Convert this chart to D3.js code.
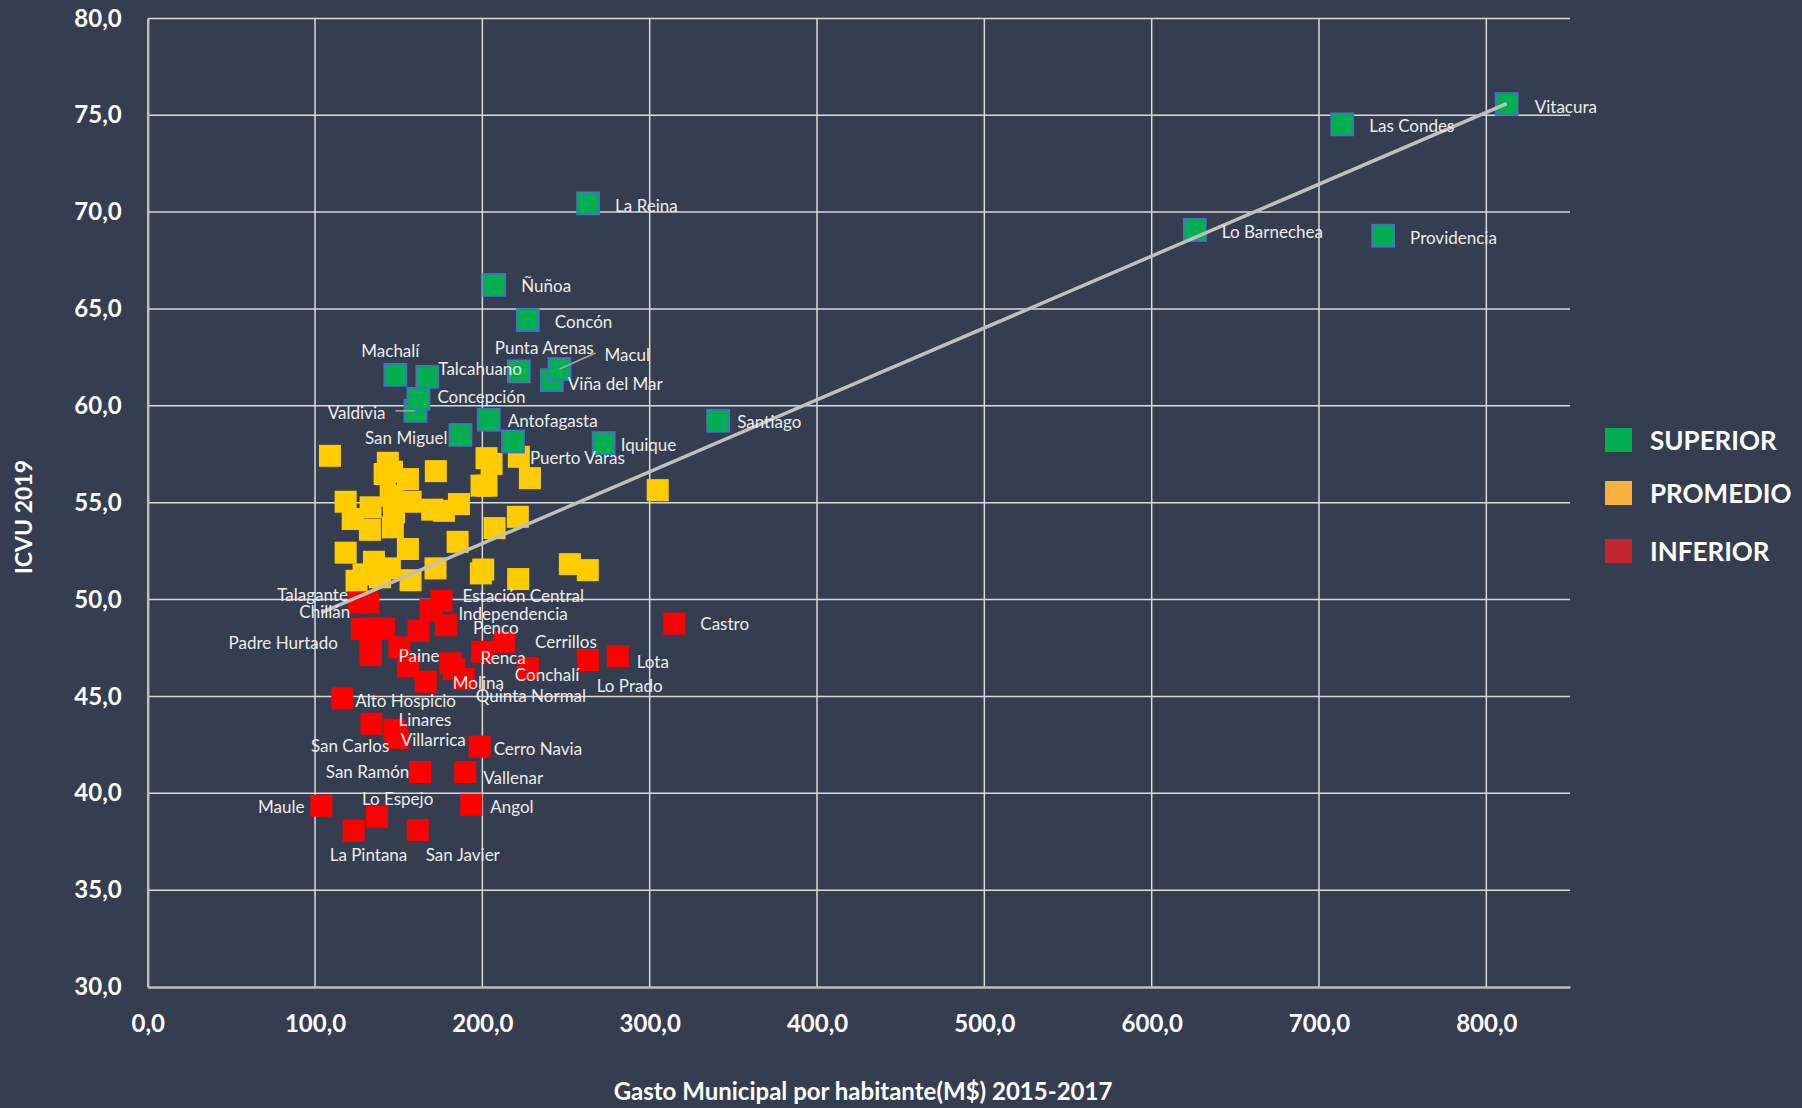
<!DOCTYPE html>
<html>
<head>
<meta charset="utf-8">
<script src="https://cdn.jsdelivr.net/npm/d3@7"></script>
<style>
  body { margin: 0; background: #343e50; }
  svg { display: block; font-family: Lato, "Open Sans", sans-serif; }
</style>
</head>
<body>
<div class="drawing"></div>
<script>
// Comunas del grupo SUPERIOR: [nombre, gasto, icvu]
var superior = [
  ["Vitacura", 812.2, 75.58], ["Las Condes", 713.9, 74.53], ["Lo Barnechea", 625.8, 69.08],
  ["Providencia", 738.3, 68.78], ["La Reina", 263.2, 70.45], ["Ñuñoa", 207.1, 66.24],
  ["Concón", 227.2, 64.43], ["Machalí", 148.0, 61.6], ["Talcahuano", 167.1, 61.5],
  ["Valdivia", 160.0, 59.74], ["Concepción", 161.8, 60.36], ["Punta Arenas", 221.8, 61.78],
  ["Viña del Mar", 241.5, 61.33], ["Macul", 246.1, 61.9], ["Antofagasta", 203.8, 59.28],
  ["San Miguel", 186.9, 58.5], ["Puerto Varas", 218.3, 58.16], ["Iquique", 272.5, 58.08],
  ["Santiago", 340.9, 59.23]
];

// Comunas del grupo PROMEDIO (sin etiqueta)
var promedio = [
  [108.9, 57.42], [143.5, 57.06], [141.6, 56.48], [146.0, 56.6], [155.5, 56.22], [172.2, 56.63],
  [118.3, 55.05], [133.2, 54.76], [145.2, 55.36], [147.0, 55.07], [157.1, 55.05], [147.2, 54.5],
  [170.0, 54.64], [177.0, 54.58], [186.0, 54.93], [122.5, 54.16], [132.8, 53.6], [146.5, 53.73],
  [185.2, 52.98], [118.3, 52.42], [155.5, 52.61], [135.2, 51.95], [129.0, 51.3], [144.7, 51.61],
  [172.0, 51.61], [124.8, 50.97], [138.8, 51.15], [157.1, 51.0], [202.5, 57.3], [205.5, 57.0],
  [221.8, 57.37], [228.4, 56.27], [199.5, 55.88], [202.5, 55.88], [304.8, 55.65], [221.2, 54.27],
  [207.3, 53.69], [199.1, 51.35], [200.5, 51.55], [221.4, 51.06], [252.3, 51.83], [263.0, 51.52]
];

// Comunas del grupo INFERIOR: [nombre, gasto, icvu]
var inferior = [
  ["", 134.8, 48.5], ["", 141.2, 48.5], ["", 150.5, 47.53], ["", 155.5, 46.55],
  ["", 161.9, 48.39], ["", 183.0, 46.41], ["", 199.9, 47.31], ["", 133.2, 47.4],
  ["Talagante", 126.2, 49.85], ["Chillán", 131.8, 49.85], ["Padre Hurtado", 128.0, 48.48],
  ["Estación Central", 175.6, 49.94], ["Independencia", 169.0, 49.46], ["Penco", 178.2, 48.67],
  ["Cerrillos", 213.0, 47.82], ["Renca", 181.0, 46.71], ["Paine", 133.2, 47.13],
  ["Molina", 166.2, 45.76], ["Conchalí", 227.2, 46.46], ["Quinta Normal", 188.9, 45.9],
  ["Lota", 280.9, 47.08], ["Lo Prado", 263.0, 46.88], ["Castro", 314.7, 48.76],
  ["Alto Hospicio", 116.3, 44.9], ["Linares", 133.7, 43.59], ["San Carlos", 147.4, 43.28],
  ["Villarrica", 149.4, 42.86], ["Cerro Navia", 198.4, 42.41], ["San Ramón", 162.9, 41.1],
  ["Vallenar", 189.8, 41.09], ["Maule", 103.8, 39.36], ["Angol", 193.4, 39.41],
  ["Lo Espejo", 137.0, 38.79], ["La Pintana", 123.1, 38.07], ["San Javier", 161.4, 38.1]
];

// Linea de tendencia
var trendSlope = 0.0371, trendIntercept = 45.47;

var xTicks = [0, 100, 200, 300, 400, 500, 600, 700, 800];
var yTicks = [30, 35, 40, 45, 50, 55, 60, 65, 70, 75, 80];
var legendLabels = ["SUPERIOR", "PROMEDIO", "INFERIOR"];
var legendColors = ["#00b050", "#fbb03b", "#c1272d"];

var xTitle = "Gasto Municipal por habitante(M$) 2015-2017";
var yTitle = "ICVU 2019";

// Posicion de las etiquetas respecto al punto: [dx, dy, anchor]
var labelPos = {
  "Vitacura": [28, 2, "start"], "Las Condes": [27, 1, "start"], "Lo Barnechea": [27, 2, "start"],
  "Providencia": [27, 2, "start"], "La Reina": [27, 2, "start"], "Ñuñoa": [27, 1, "start"],
  "Concón": [27, 1, "start"], "Machalí": [-5, -24, "middle"], "Talcahuano": [11, -8, "start"],
  "Concepción": [19, -2, "start"], "Valdivia": [-30, 2, "end"], "Punta Arenas": [-24, -24, "start"],
  "Macul": [45, -15, "start"], "Viña del Mar": [16, 3, "start"], "Antofagasta": [19, 1, "start"],
  "San Miguel": [-13, 3, "end"], "Puerto Varas": [17, 16, "start"], "Iquique": [17, 1, "start"],
  "Santiago": [19, 1, "start"],
  "Talagante": [-11, -8, "end"], "Chillán": [-18, 9, "end"], "Padre Hurtado": [-24, 13, "end"],
  "Estación Central": [21, -5, "start"], "Independencia": [28, 3, "start"], "Penco": [27, 2, "start"],
  "Cerrillos": [31, 0, "start"], "Renca": [30, -6, "start"], "Paine": [28, 0, "start"],
  "Molina": [27, 1, "start"], "Conchalí": [-13, 6, "start"], "Quinta Normal": [12, 17, "start"],
  "Lota": [19, 5, "start"], "Lo Prado": [9, 25, "start"], "Castro": [26, 0, "start"],
  "Alto Hospicio": [13, 2, "start"], "Linares": [27, -4, "start"], "San Carlos": [-5, 16, "end"],
  "Villarrica": [3, 2, "start"], "Cerro Navia": [14, 2, "start"], "San Ramón": [-11, 0, "end"],
  "Vallenar": [18, 5, "start"], "Maule": [-17, 1, "end"], "Angol": [19, 2, "start"],
  "Lo Espejo": [-15, -18, "start"], "La Pintana": [-24, 24, "start"], "San Javier": [8, 24, "start"]
};
// Lineas guia de etiquetas: [x1, y1] relativo al punto
var leaders = { "Valdivia": [-20, 0], "Macul": [36, -16] };

var width = 1802, height = 1108;
var mLeft = 147.7, mRight = 1570, mTop = 18.4, mBottom = 987;
var size = 22;

var svg = d3.select(".drawing").append("svg")
    .attr("width", width)
    .attr("height", height);

svg.append("rect").attr("width", width).attr("height", height).attr("fill", "#343e50");

var x = d3.scaleLinear().domain([0, 850]).range([mLeft, mRight]);
var y = d3.scaleLinear().domain([30, 80]).range([mBottom, mTop]);

var fmt = d3.formatLocale({ decimal: ",", thousands: ".", grouping: [3], currency: ["$", ""] }).format(".1f");

// Grid
svg.append("g").selectAll("line").data(yTicks.slice(1)).join("line")
    .attr("x1", x(0)).attr("x2", x(850))
    .attr("y1", d => y(d)).attr("y2", d => y(d))
    .attr("stroke", "#d9d9d9").attr("stroke-width", 1.5);
svg.append("g").selectAll("line").data(xTicks.slice(1)).join("line")
    .attr("x1", d => x(d)).attr("x2", d => x(d))
    .attr("y1", y(30)).attr("y2", y(80))
    .attr("stroke", "#d9d9d9").attr("stroke-width", 1.5);

// Axes
var xAxis = svg.append("g")
    .attr("transform", "translate(0," + mBottom + ")")
    .call(d3.axisBottom(x).tickValues(xTicks).tickSize(0).tickPadding(28).tickFormat(fmt));
var yAxis = svg.append("g")
    .attr("transform", "translate(" + mLeft + ",0)")
    .call(d3.axisLeft(y).tickValues(yTicks).tickSize(0).tickPadding(26).tickFormat(fmt));
[xAxis, yAxis].forEach(function(a) {
  a.select(".domain").attr("stroke", "#bfbfbf").attr("stroke-width", 2.5);
  a.selectAll("text").attr("fill", "#ffffff").attr("font-size", 24)
    .attr("font-weight", "bold").attr("font-family", "Lato");
});

// Points
function squares(data, fill, stroke, getX, getY) {
  svg.append("g").selectAll("rect").data(data).join("rect")
      .attr("x", d => x(getX(d)) - size / 2)
      .attr("y", d => y(getY(d)) - size / 2)
      .attr("width", size).attr("height", size)
      .attr("fill", fill)
      .attr("stroke", stroke)
      .attr("stroke-width", stroke == "none" ? 0 : 1.8);
}
squares(promedio, "#ffcc00", "none", d => d[0], d => d[1]);
squares(inferior, "#ff0000", "none", d => d[1], d => d[2]);
squares(superior, "#00b050", "#4472c4", d => d[1], d => d[2]);

// Trend line over full data range
var all = superior.concat(inferior).map(d => d[1]).concat(promedio.map(d => d[0]));
var tx = d3.extent(all);
svg.append("path")
    .attr("d", d3.line()(tx.map(v => [x(v), y(trendIntercept + trendSlope * v)])))
    .attr("stroke", "#bfbfbf").attr("stroke-width", 3.5).attr("fill", "none");

// Labels
var labeled = superior.concat(inferior).filter(d => d[0] != "");
svg.append("g").selectAll("line").data(labeled.filter(d => leaders[d[0]])).join("line")
    .attr("x1", d => x(d[1]) + leaders[d[0]][0]).attr("y1", d => y(d[2]) + leaders[d[0]][1])
    .attr("x2", d => x(d[1])).attr("y2", d => y(d[2]))
    .attr("stroke", "#a6a6a6").attr("stroke-width", 1.5);
svg.append("g").selectAll("text").data(labeled).join("text")
    .attr("x", d => x(d[1]) + labelPos[d[0]][0])
    .attr("y", d => y(d[2]) + labelPos[d[0]][1])
    .attr("text-anchor", d => labelPos[d[0]][2])
    .attr("dominant-baseline", "central")
    .attr("font-size", 17)
    .attr("fill", "#ececec")
    .text(d => d[0]);

// Axis titles
svg.append("text")
    .attr("x", 863).attr("y", 1100)
    .attr("text-anchor", "middle")
    .attr("font-size", 24).attr("font-weight", "bold").attr("fill", "#ffffff")
    .text(xTitle);
svg.append("text")
    .attr("transform", "translate(32,517) rotate(-90)")
    .attr("text-anchor", "middle")
    .attr("font-size", 23).attr("font-weight", "bold").attr("fill", "#ffffff")
    .text(yTitle);

// Legend
var legend = svg.append("g").selectAll("g").data(legendLabels).join("g")
    .attr("transform", (d, i) => "translate(1605," + [428, 481, 539][i] + ")");
legend.append("rect")
    .attr("width", 27).attr("height", 24)
    .attr("fill", (d, i) => legendColors[i]);
legend.append("text")
    .attr("x", 45).attr("y", 12)
    .attr("dominant-baseline", "central")
    .attr("font-size", 26).attr("font-weight", "bold").attr("fill", "#ffffff")
    .text(d => d);
</script>
</body>
</html>
